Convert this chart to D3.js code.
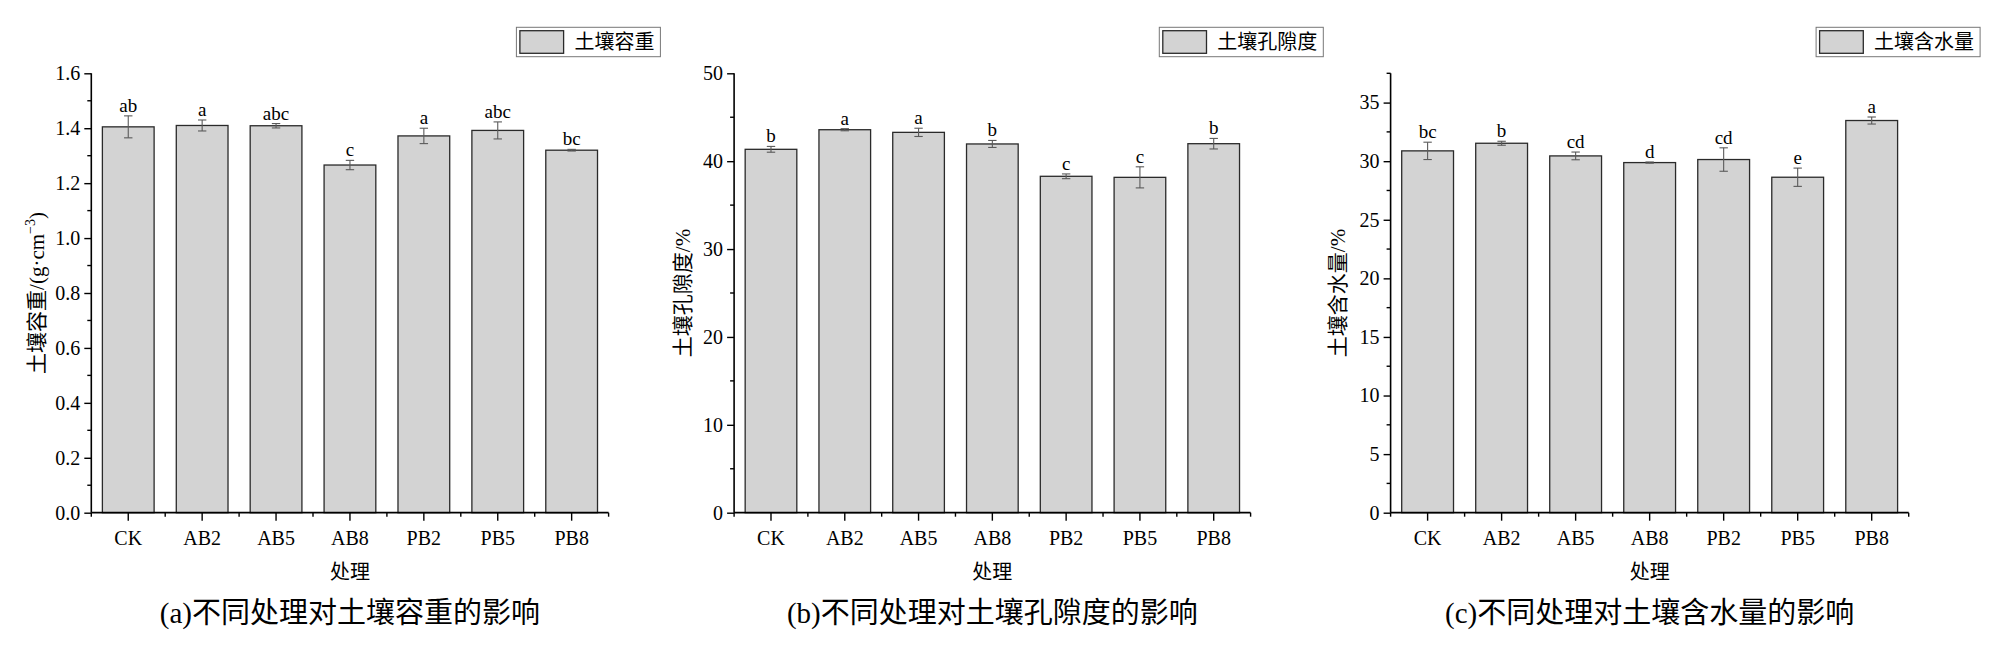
<!DOCTYPE html>
<html><head><meta charset="utf-8">
<script src="https://cdn.jsdelivr.net/npm/d3@7"></script>
<style>
body{margin:0;background:#fff;}
svg{display:block;}
text{font-family:"Liberation Serif","Times New Roman","Noto Sans CJK SC",serif;fill:#000;}
.cjk{font-family:"Liberation Serif","Noto Sans CJK SC",serif;}
</style></head>
<body>
<svg id="chart" width="2015" height="658"></svg>
<script>
const categories = ["CK","AB2","AB5","AB8","PB2","PB5","PB8"];

const bulkDensity = [1.405,1.410,1.409,1.266,1.372,1.392,1.320];
const bulkDensityErr = [0.040,0.020,0.008,0.017,0.028,0.031,0.003];
const bulkDensityLetters = ["ab","a","abc","c","a","abc","bc"];
const bulkDensityTicks = [0,0.2,0.4,0.6,0.8,1.0,1.2,1.4,1.6];

const porosity = [41.35,43.58,43.28,41.96,38.28,38.16,41.99];
const porosityErr = [0.33,0.12,0.47,0.40,0.27,1.20,0.60];
const porosityLetters = ["b","a","a","b","c","c","b"];
const porosityTicks = [0,10,20,30,40,50];

const moisture = [30.88,31.53,30.45,29.88,30.14,28.63,33.47];
const moistureErr = [0.74,0.17,0.33,0.05,1.00,0.78,0.30];
const moistureLetters = ["bc","b","cd","d","cd","e","a"];
const moistureTicks = [0,5,10,15,20,25,30,35];

const panels = [
  {values:bulkDensity, err:bulkDensityErr, letters:bulkDensityLetters, ticks:bulkDensityTicks,
   domain:[0,1.6], minorStep:0.1, fmt:d3.format(".1f"),
   x0:91.3, x1:608.6, legendX:516.4, legend:"土壤容重", ytX:36.7,
   ytitle:["土壤容重/(g·cm","−3",")"], caption:"(a)不同处理对土壤容重的影响"},
  {values:porosity, err:porosityErr, letters:porosityLetters, ticks:porosityTicks,
   domain:[0,50], minorStep:5, fmt:d3.format("d"),
   x0:734.1, x1:1250.6, legendX:1159.3, legend:"土壤孔隙度", ytX:683.3,
   ytitle:["土壤孔隙度/%"], caption:"(b)不同处理对土壤孔隙度的影响"},
  {values:moisture, err:moistureErr, letters:moistureLetters, ticks:moistureTicks,
   domain:[0,37.5], minorStep:2.5, fmt:d3.format("d"),
   x0:1390.6, x1:1908.7, legendX:1816.1, legend:"土壤含水量", ytX:1338.3,
   ytitle:["土壤含水量/%"], caption:"(c)不同处理对土壤含水量的影响"}
];

const svg = d3.select("#chart");
const yTop = 73.3, yBot = 512.7;

panels.forEach(p => {
  const g = svg.append("g");
  const x = d3.scaleBand().domain(categories).range([p.x0, p.x1]).paddingInner(0.3).paddingOuter(0.15);
  const y = d3.scaleLinear().domain(p.domain).range([yBot, yTop]);

  // bars
  g.selectAll("rect.bar").data(categories).join("rect")
    .attr("class","bar")
    .attr("x", d => x(d))
    .attr("width", x.bandwidth())
    .attr("y", (d,i) => y(p.values[i]))
    .attr("height", (d,i) => yBot - y(p.values[i]))
    .attr("fill", "#d3d3d3")
    .attr("stroke", "#2a2a2a")
    .attr("stroke-width", 1.3);

  // error bars
  const cx = d => x(d) + x.bandwidth()/2;
  const eg = g.append("g").attr("stroke","#5a5a5a").attr("stroke-width",1.1);
  categories.forEach((c,i) => {
    const hi = y(p.values[i] + p.err[i]), lo = y(p.values[i] - p.err[i]);
    eg.append("line").attr("x1",cx(c)).attr("x2",cx(c)).attr("y1",hi).attr("y2",lo);
    eg.append("line").attr("x1",cx(c)-4.2).attr("x2",cx(c)+4.2).attr("y1",hi).attr("y2",hi);
    eg.append("line").attr("x1",cx(c)-4.2).attr("x2",cx(c)+4.2).attr("y1",lo).attr("y2",lo);
  });

  // letters
  g.selectAll("text.sig").data(categories).join("text")
    .attr("class","sig")
    .attr("x", cx)
    .attr("y", (d,i) => y(p.values[i] + p.err[i]) - 4)
    .attr("text-anchor","middle")
    .attr("font-size", 19)
    .text((d,i) => p.letters[i]);

  // y axis
  const yAxis = d3.axisLeft(y).tickValues(p.ticks).tickFormat(p.fmt).tickSize(7).tickPadding(4);
  const ya = g.append("g").attr("transform",`translate(${p.x0},0)`).call(yAxis);
  ya.select(".domain").attr("stroke","#000").attr("stroke-width",1.6).attr("d",`M-0,${yTop}V${yBot}`);
  ya.selectAll(".tick line").attr("stroke","#000").attr("stroke-width",1.4);
  ya.selectAll(".tick text").attr("font-size",20).attr("font-family","Liberation Serif");
  const minors = d3.range(p.domain[0], p.domain[1] + 1e-9, p.minorStep).filter(v => !p.ticks.some(t => Math.abs(t-v) < 1e-9));
  ya.selectAll("line.minor").data(minors).join("line").attr("class","minor")
    .attr("x1",0).attr("x2",-4).attr("y1",d=>y(d)).attr("y2",d=>y(d))
    .attr("stroke","#000").attr("stroke-width",1.4);

  // x axis
  const xAxis = d3.axisBottom(x).tickSize(8).tickPadding(10);
  const xa = g.append("g").attr("transform",`translate(0,${yBot})`).call(xAxis);
  xa.select(".domain").attr("stroke","#000").attr("stroke-width",1.8).attr("d",`M${p.x0},0H${p.x1}`);
  xa.selectAll(".tick line").attr("stroke","#000").attr("stroke-width",1.4);
  xa.selectAll(".tick text").attr("font-size",20).attr("font-family","Liberation Serif");
  const bounds = d3.range(categories.length + 1).map(i => p.x0 + i * x.step());
  xa.selectAll("line.minor").data(bounds).join("line").attr("class","minor")
    .attr("x1",d=>d).attr("x2",d=>d).attr("y1",0).attr("y2",4)
    .attr("stroke","#000").attr("stroke-width",1.4);

  // x title
  g.append("text").attr("class","cjk").attr("x",(p.x0+p.x1)/2).attr("y",579)
    .attr("text-anchor","middle").attr("font-size",20).text("处理");

  // y title
  const yt = g.append("text").attr("class","cjk")
    .attr("transform",`translate(${p.ytX + 7},${(yTop+yBot)/2}) rotate(-90)`)
    .attr("text-anchor","middle").attr("font-size",21);
  yt.append("tspan").text(p.ytitle[0]);
  if (p.ytitle.length > 1) {
    yt.append("tspan").attr("font-size",14).attr("dy",-9).text(p.ytitle[1]);
    yt.append("tspan").attr("dy",9).text(p.ytitle[2]);
  }

  // caption
  g.append("text").attr("class","cjk").attr("x",(p.x0+p.x1)/2).attr("y",623)
    .attr("text-anchor","middle").attr("font-size",29).text(p.caption);

  // legend
  const lg = g.append("g").attr("transform",`translate(${p.legendX},27.3)`);
  const lt = lg.append("text").attr("class","cjk").attr("x",58).attr("y",22).attr("font-size",20).text(p.legend);
  const tw = lt.node().getComputedTextLength();
  lg.insert("rect","text").attr("x",0).attr("y",0).attr("width",58 + tw + 6).attr("height",29.4)
    .attr("fill","#fff").attr("stroke","#777").attr("stroke-width",1);
  lg.append("rect").attr("x",3.5).attr("y",3.4).attr("width",43.7).attr("height",22.6)
    .attr("fill","#d3d3d3").attr("stroke","#2a2a2a").attr("stroke-width",1.3);
});
</script>
</body></html>
